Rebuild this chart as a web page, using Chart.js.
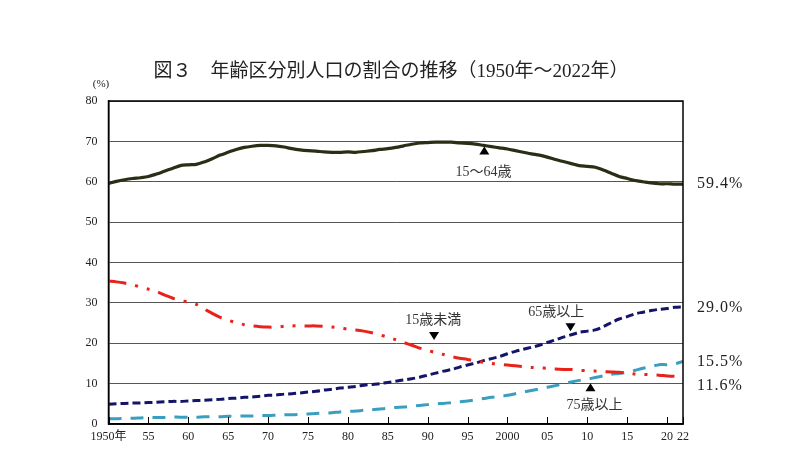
<!DOCTYPE html>
<html>
<head>
<meta charset="utf-8">
<script src="https://cdn.jsdelivr.net/npm/chart.js@4/dist/chart.umd.min.js"></script>
<style>
html,body{margin:0;padding:0;background:#fff;}
#wrap{width:800px;height:466px;position:relative;}
</style>
</head>
<body>
<div id="wrap"><canvas id="c" width="800" height="466"></canvas></div>
<script>
const years = [];
for (let y = 1950; y <= 2022; y++) years.push(y);

const tickYears = [1950,1955,1960,1965,1970,1975,1980,1985,1990,1995,2000,2005,2010,2015,2020,2022];
const tickLabels = ['1950年','55','60','65','70','75','80','85','90','95','2000','05','10','15','20','22'];
const yTicks = [0,10,20,30,40,50,60,70,80];

const working = [59.6,60.1,60.5,60.8,61.0,61.3,61.9,62.6,63.3,64.0,64.2,64.3,64.9,65.7,66.6,67.3,68.0,68.5,68.8,69.0,
  69.0,68.9,68.6,68.2,67.9,67.7,67.6,67.4,67.3,67.3,67.4,67.3,67.5,67.7,68.0,68.2,68.5,68.9,69.3,69.6,
  69.7,69.8,69.8,69.8,69.6,69.5,69.3,69.0,68.7,68.4,68.1,67.7,67.3,66.9,66.6,66.1,65.5,65.0,64.5,64.0,
  63.8,63.6,62.9,62.1,61.3,60.8,60.3,60.0,59.7,59.5,59.5,59.4,59.4];
const children = [35.4,35.2,34.9,34.5,33.9,33.4,32.8,32.0,31.2,30.6,30.2,29.6,28.5,27.4,26.4,25.7,25.1,24.6,24.3,24.1,
  24.0,24.0,24.2,24.3,24.3,24.3,24.3,24.2,24.0,23.8,23.5,23.3,23.0,22.6,22.1,21.5,20.9,20.2,19.5,18.8,
  18.2,17.7,17.2,16.7,16.3,16.0,15.6,15.3,15.0,14.8,14.6,14.4,14.2,14.0,13.9,13.8,13.6,13.5,13.5,13.3,
  13.2,13.1,13.0,12.9,12.8,12.6,12.4,12.3,12.2,12.1,11.9,11.8,11.6];
const elderly65 = [4.9,5.0,5.1,5.2,5.2,5.3,5.4,5.5,5.6,5.6,5.7,5.8,5.9,6.0,6.1,6.3,6.4,6.6,6.7,6.9,
  7.1,7.2,7.4,7.5,7.7,7.9,8.1,8.4,8.6,8.9,9.1,9.3,9.6,9.8,10.0,10.3,10.6,10.9,11.2,11.6,
  12.1,12.6,13.1,13.5,14.1,14.6,15.1,15.7,16.2,16.7,17.4,18.0,18.5,19.0,19.5,20.2,20.8,21.5,22.1,22.7,
  23.0,23.3,24.1,25.1,26.0,26.6,27.3,27.7,28.1,28.4,28.6,28.9,29.0];
const elderly75 = [1.3,1.3,1.4,1.4,1.5,1.6,1.6,1.6,1.7,1.7,1.7,1.7,1.8,1.8,1.8,1.9,1.9,2.0,2.0,2.1,
  2.1,2.2,2.3,2.3,2.4,2.5,2.6,2.7,2.8,3.0,3.1,3.2,3.4,3.5,3.7,3.9,4.1,4.2,4.4,4.6,
  4.8,5.0,5.1,5.3,5.5,5.7,6.0,6.3,6.6,6.8,7.1,7.5,7.9,8.3,8.7,9.1,9.5,9.9,10.4,10.8,
  11.1,11.5,11.9,12.3,12.5,12.8,13.3,13.8,14.2,14.7,14.7,14.9,15.5];

const seriesNames = ['15～64歳','15歳未満','65歳以上','75歳以上'];
const endLabels = ['59.4%','29.0%','15.5%','11.6%'];

const SERIF = "'Liberation Serif','Noto Sans CJK JP',serif";

function pts(arr){ return arr.map((v,i)=>({x:years[i], y:v})); }

const decor = {
  id:'decor',
  afterDraw(chart){
    const {ctx, chartArea:a, scales:{x, y}} = chart;
    ctx.save();
    ctx.strokeStyle = '#000'; ctx.lineWidth = 1.5;
    ctx.strokeRect(a.left, a.top, a.right - a.left, a.bottom - a.top);
    ctx.lineWidth = 1;
    tickYears.forEach(t=>{
      const px = Math.round(x.getPixelForValue(t)) + 0.5;
      ctx.beginPath(); ctx.moveTo(px, a.bottom); ctx.lineTo(px, a.bottom - 7); ctx.stroke();
    });
    ctx.fillStyle = '#222';
    ctx.font = "19px " + SERIF;
    ctx.textAlign = 'center'; ctx.textBaseline = 'middle';
    ctx.fillText('図３　年齢区分別人口の割合の推移（1950年～2022年）', 391, 72);
    ctx.font = "11px " + SERIF;
    ctx.fillText('(%)', 101, 84);
    ctx.font = "14px " + SERIF;
    const ann = [
      {t:seriesNames[0], tx:1997, ty:62.3, ax:1997.1, ay:68.7, up:true},
      {t:seriesNames[1], tx:1990.7, ty:25.7, ax:1990.8, ay:20.8, up:false},
      {t:seriesNames[2], tx:2006.1, ty:27.6, ax:2007.9, ay:23.0, up:false},
      {t:seriesNames[3], tx:2010.9, ty:4.6, ax:2010.4, ay:10.1, up:true}
    ];
    ann.forEach(n=>{
      ctx.fillStyle = '#333';
      ctx.fillText(n.t, x.getPixelForValue(n.tx), y.getPixelForValue(n.ty));
      const px = x.getPixelForValue(n.ax), py = y.getPixelForValue(n.ay);
      ctx.fillStyle = '#000';
      ctx.beginPath();
      if (n.up){ ctx.moveTo(px, py); ctx.lineTo(px-5, py+8); ctx.lineTo(px+5, py+8); }
      else { ctx.moveTo(px, py); ctx.lineTo(px-5, py-8); ctx.lineTo(px+5, py-8); }
      ctx.closePath(); ctx.fill();
    });
    ctx.font = "16px " + SERIF;
    ctx.fillStyle = '#222';
    ctx.textAlign = 'left';
    try { ctx.letterSpacing = '1px'; } catch(e) {}
    const endVals = [working[working.length-1], elderly65[elderly65.length-1], elderly75[elderly75.length-1], children[children.length-1]];
    const shift = [0, -0.3, 0, -2.2];
    endVals.forEach((v,i)=>{
      ctx.fillText(endLabels[i], 697, y.getPixelForValue(v + shift[i]));
    });
    ctx.restore();
  }
};

new Chart(document.getElementById('c'), {
  type:'line',
  data:{
    datasets:[
      {label:seriesNames[0], data:pts(working), borderColor:'#2b2e14', borderWidth:3.2, pointRadius:0, tension:0.3},
      {label:seriesNames[1], data:pts(children), borderColor:'#e8231c', borderWidth:3, pointRadius:0, tension:0.3, borderDash:[18,9,3,9,3,9]},
      {label:seriesNames[2], data:pts(elderly65), borderColor:'#14146b', borderWidth:3, pointRadius:0, tension:0.3, borderDash:[8,4]},
      {label:seriesNames[3], data:pts(elderly75), borderColor:'#3a9fbf', borderWidth:3, pointRadius:0, tension:0.3, borderDash:[13,9]}
    ]
  },
  options:{
    responsive:false,
    animation:false,
    layout:{padding:{left:0, right:117, top:101, bottom:0}},
    plugins:{legend:{display:false}, tooltip:{enabled:false}, title:{display:false}},
    scales:{
      x:{
        type:'linear', min:1950, max:2022,
        afterBuildTicks(s){ s.ticks = tickYears.map(v=>({value:v})); },
        afterFit(s){ s.height = 42; },
        grid:{display:false, drawTicks:false},
        border:{display:true, color:'#000', width:1.5},
        ticks:{autoSkip:false, maxRotation:0, padding:6, color:'#222',
          font:{family:SERIF, size:12},
          callback(v){ const i = tickYears.indexOf(v); return i>=0 ? tickLabels[i] : ''; }}
      },
      y:{
        min:0, max:80,
        afterBuildTicks(s){ s.ticks = yTicks.map(v=>({value:v})); },
        afterFit(s){ s.width = 108.5; },
        grid:{color:'#555', lineWidth:1, drawTicks:false},
        border:{display:true, color:'#000', width:1.5},
        ticks:{padding:11, color:'#222', font:{family:SERIF, size:12}}
      }
    }
  },
  plugins:[decor]
});
</script>
</body>
</html>
